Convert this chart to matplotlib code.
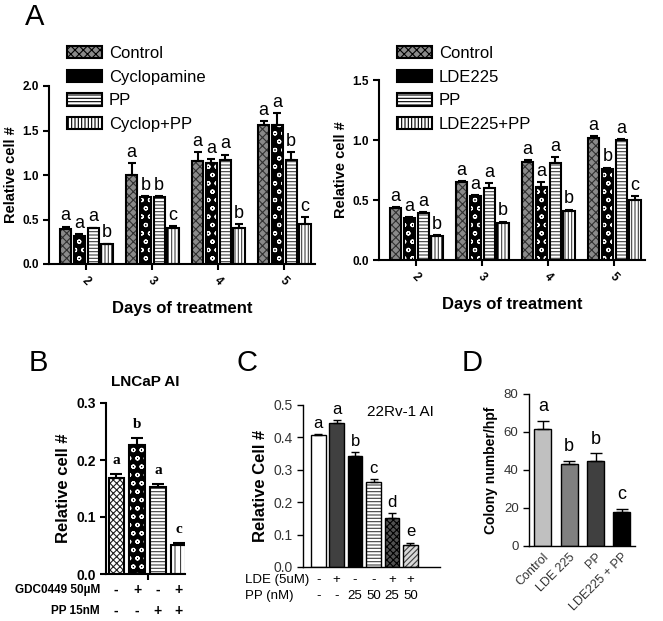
import numpy as np
import matplotlib
matplotlib.use("Agg")
import matplotlib.pyplot as plt
from matplotlib.patches import Patch
from matplotlib.transforms import blended_transform_factory

W, H = 663, 621

# ---- panel A data ----
days = ["2", "3", "4", "5"]
a_left_names = ["Control", "Cyclopamine", "PP", "Cyclop+PP"]
a_left_vals = [[0.39, 1.00, 1.16, 1.56],
               [0.31, 0.75, 1.13, 1.56],
               [0.40, 0.75, 1.17, 1.17],
               [0.22, 0.41, 0.40, 0.45]]
a_left_err = [[0.03, 0.13, 0.10, 0.05],
              [0.03, 0.01, 0.05, 0.14],
              [0.01, 0.01, 0.06, 0.09],
              [0.01, 0.02, 0.05, 0.08]]
a_left_let = [["a", "a", "a", "a"],
              ["a", "b", "a", "a"],
              ["a", "b", "a", "b"],
              ["b", "c", "b", "c"]]

a_right_names = ["Control", "LDE225", "PP", "LDE225+PP"]
a_right_vals = [[0.43, 0.65, 0.82, 1.02],
                [0.35, 0.53, 0.61, 0.76],
                [0.39, 0.60, 0.81, 1.00],
                [0.20, 0.31, 0.41, 0.50]]
a_right_err = [[0.01, 0.01, 0.01, 0.01],
               [0.01, 0.01, 0.04, 0.01],
               [0.01, 0.04, 0.05, 0.01],
               [0.01, 0.01, 0.01, 0.03]]
a_right_let = [["a", "a", "a", "a"],
               ["a", "a", "a", "b"],
               ["a", "a", "a", "a"],
               ["b", "b", "b", "c"]]

# ---- panel B data ----
b_vals = [0.169, 0.226, 0.153, 0.051]
b_err = [0.006, 0.012, 0.005, 0.004]
b_let = ["a", "b", "a", "c"]
b_gdc = ["-", "+", "-", "+"]
b_pp = ["-", "-", "+", "+"]

# ---- panel C data ----
c_vals = [0.407, 0.445, 0.344, 0.263, 0.152, 0.069]
c_err = [0.002, 0.009, 0.011, 0.008, 0.015, 0.006]
c_let = ["a", "a", "b", "c", "d", "e"]
c_lde = ["-", "+", "-", "-", "+", "+"]
c_pp = ["-", "-", "25", "50", "25", "50"]

# ---- panel D data ----
d_names = ["Control", "LDE 225", "PP", "LDE225 + PP"]
d_vals = [61.7, 43.0, 44.8, 18.0]
d_err = [4.3, 2.0, 4.0, 1.5]
d_let = ["a", "b", "b", "c"]

plt.rcParams['font.family'] = ['Liberation Sans', 'DejaVu Sans']
plt.rcParams['hatch.linewidth'] = 0.8
fig = plt.figure(figsize=(W / 100, H / 100), dpi=100)


def ax_px(left, top, right, bottom):
    return fig.add_axes([left / W, 1 - bottom / H, (right - left) / W, (bottom - top) / H])


def hbar(ax, x, h, w, face, hatch=None, hcol="black", lw=1.5):
    ax.bar(x, h, w, color=face, edgecolor=hcol, hatch=hatch, linewidth=0, zorder=2)
    ax.bar(x, h, w, fill=False, edgecolor="black", linewidth=lw, zorder=3)


def style_axes(ax, lw=1.5, bold=True, size=9, color="black"):
    for s in ["top", "right"]:
        ax.spines[s].set_visible(False)
    for s in ["left", "bottom"]:
        ax.spines[s].set_linewidth(lw)
    ax.tick_params(direction="out", width=lw, length=4, labelsize=size, labelcolor=color)
    if bold:
        for t in ax.get_yticklabels() + ax.get_xticklabels():
            t.set_fontweight("bold")


a_styles = [("#8a8a8a", "xxxx", "#303030"),
            ("black", "oo", "white"),
            ("white", "-----", "#404040"),
            ("white", "|||||", "#404040")]


def panel_a(ax, vals, errs, lets, names, ymax, yticks, legend_x):
    x = np.arange(len(days))
    offs = [-0.31, -0.10, 0.11, 0.32]
    w = 0.17
    for i in range(4):
        face, hatch, hcol = a_styles[i]
        hbar(ax, x + offs[i], vals[i], w, face, hatch, hcol)
        ax.errorbar(x + offs[i], vals[i], yerr=[np.zeros(4), errs[i]], fmt="none",
                    ecolor="black", elinewidth=1.5, capsize=3, capthick=1.5, zorder=4)
        for j in range(4):
            ax.text(x[j] + offs[i], vals[i][j] + errs[i][j] + ymax * 0.012, lets[i][j],
                    ha="center", va="bottom", fontsize=13)
    ax.set_xlim(-0.56, 3.47)
    ax.set_ylim(0, ymax)
    ax.set_yticks(yticks)
    ax.set_yticklabels(["%.1f" % v for v in yticks])
    ax.set_xticks(x)
    ax.set_xticklabels(days, rotation=-45)
    style_axes(ax, size=8.5)
    ax.set_ylabel("Relative cell #", fontsize=10.5, fontweight="bold", labelpad=3)
    ax.set_xlabel("Days of treatment", fontsize=12, fontweight="bold", labelpad=10)
    handles = [Patch(facecolor=a_styles[i][0], edgecolor=a_styles[i][2], hatch=a_styles[i][1])
               for i in range(4)]
    leg = ax.legend(handles, names, loc="upper left", bbox_to_anchor=(legend_x / W, 1 - 46 / H),
                    bbox_transform=fig.transFigure, frameon=False, fontsize=12,
                    handlelength=2.1, handleheight=0.75, labelspacing=0.52,
                    borderpad=0, borderaxespad=0, handletextpad=0.4)
    for p in leg.get_patches():
        p.set_linewidth(1.5)
        p.set_edgecolor("black")


ax1 = ax_px(49, 86, 315, 264)
panel_a(ax1, a_left_vals, a_left_err, a_left_let, a_left_names, 2.0, [0, 0.5, 1.0, 1.5, 2.0], 67)
ax2 = ax_px(379, 80, 645, 260)
panel_a(ax2, a_right_vals, a_right_err, a_right_let, a_right_names, 1.5, [0, 0.5, 1.0, 1.5], 397)

# ---- panel B ----
axb = ax_px(106, 403, 185, 574)
b_styles = [("white", "xxxxx", "#202020"),
            ("black", "oo", "white"),
            ("white", "-----", "#404040"),
            ("white", "|||", "#404040")]
xb = np.arange(4)
for i in range(4):
    face, hatch, hcol = b_styles[i]
    hbar(axb, xb[i], b_vals[i], 0.72, face, hatch, hcol)
    axb.text(xb[i], b_vals[i] + b_err[i] + 0.012, b_let[i], ha="center", va="bottom",
             fontsize=11, fontweight="bold", family="Liberation Serif")
axb.errorbar(xb, b_vals, yerr=[np.zeros(4), b_err], fmt="none", ecolor="black",
             elinewidth=1.5, capsize=4, capthick=1.5, zorder=4)
axb.set_xlim(-0.48, 3.29)
axb.set_ylim(0, 0.3)
axb.set_yticks([0, 0.1, 0.2, 0.3])
axb.set_yticklabels(["0.0", "0.1", "0.2", "0.3"])
axb.set_xticks([1.52])
axb.set_xticklabels([""])
style_axes(axb, size=10)
axb.set_ylabel("Relative cell #", fontsize=12, fontweight="bold")
axb.set_title("LNCaP AI", fontsize=11, fontweight="bold", pad=12)
tb = blended_transform_factory(axb.transData, axb.transAxes)
for i in range(4):
    axb.text(xb[i], -0.094, b_gdc[i], transform=tb, ha="center", va="center",
             fontsize=10, fontweight="bold")
    axb.text(xb[i], -0.216, b_pp[i], transform=tb, ha="center", va="center",
             fontsize=10, fontweight="bold")
fig.text(100 / W, 1 - 590 / H, "GDC0449 50µM", ha="right", va="center", fontsize=8.5, fontweight="bold")
fig.text(100 / W, 1 - 611 / H, "PP 15nM", ha="right", va="center", fontsize=8.5, fontweight="bold")

# ---- panel C ----
axc = ax_px(303, 405, 440, 567)
c_styles = [("white", None, "black"),
            ("#404040", None, "black"),
            ("black", None, "black"),
            ("white", "-----", "#404040"),
            ("#505050", "xxxxx", "black"),
            ("#d8d8d8", "//////", "#404040")]
xc = np.arange(6)
for i in range(6):
    face, hatch, hcol = c_styles[i]
    hbar(axc, xc[i], c_vals[i], 0.8, face, hatch, hcol, lw=1.0)
    axc.text(xc[i], c_vals[i] + c_err[i] + 0.01, c_let[i], ha="center", va="bottom", fontsize=12)
axc.errorbar(xc, c_vals, yerr=[np.zeros(6), c_err], fmt="none", ecolor="black",
             elinewidth=1.0, capsize=3, capthick=1.0, zorder=4)
axc.set_xlim(-0.82, 6.6)
axc.set_ylim(0, 0.5)
axc.set_yticks([0, 0.1, 0.2, 0.3, 0.4, 0.5])
axc.set_yticklabels(["0.0", "0.1", "0.2", "0.3", "0.4", "0.5"])
axc.set_xticks([])
style_axes(axc, lw=1.0, bold=False, size=10, color="#333333")
axc.set_ylabel("Relative Cell #", fontsize=12, fontweight="bold")
fig.text(400 / W, 1 - 412 / H, "22Rv-1 AI", ha="center", va="center", fontsize=11)
tc = blended_transform_factory(axc.transData, axc.transAxes)
for i in range(6):
    axc.text(xc[i], -0.08, c_lde[i], transform=tc, ha="center", va="center", fontsize=9.5)
    axc.text(xc[i], -0.18, c_pp[i], transform=tc, ha="center", va="center", fontsize=9.5)
fig.text(245 / W, 1 - 580 / H, "LDE (5uM)", ha="left", va="center", fontsize=9.5)
fig.text(245 / W, 1 - 596 / H, "PP (nM)", ha="left", va="center", fontsize=9.5)

# ---- panel D ----
axd = ax_px(529, 394, 635, 546)
d_colors = ["#c0c0c0", "#808080", "#404040", "black"]
xd = np.arange(4)
for i in range(4):
    hbar(axd, xd[i], d_vals[i], 0.65, d_colors[i], None, "black", lw=1.0)
    axd.text(xd[i], d_vals[i] + d_err[i] + 3, d_let[i], ha="center", va="bottom", fontsize=13)
axd.errorbar(xd, d_vals, yerr=[np.zeros(4), d_err], fmt="none", ecolor="black",
             elinewidth=1.0, capsize=4, capthick=1.0, zorder=4)
axd.set_xlim(-0.53, 3.5)
axd.set_ylim(0, 80)
axd.set_yticks([0, 20, 40, 60, 80])
axd.set_xticks(xd)
axd.set_xticklabels(d_names, rotation=45, ha="right", rotation_mode="anchor")
style_axes(axd, lw=1.0, bold=False, size=9.5, color="#333333")
axd.tick_params(axis="x", length=0, labelsize=9)
axd.set_ylabel("Colony number/hpf", fontsize=10, fontweight="bold")

# panel letters
for lbl, px, py in [("A", 35, 17), ("B", 38, 363), ("C", 247, 363), ("D", 472, 363)]:
    fig.text(px / W, 1 - py / H, lbl, ha="center", va="center", fontsize=21)

fig.savefig("out.png", dpi=100)
